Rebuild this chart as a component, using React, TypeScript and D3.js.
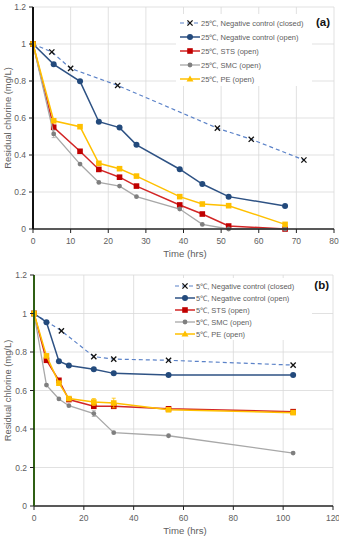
import React from "react";
import { scaleLinear, line, range } from "d3";

// Panel (a): 25 °C
const TIME_A = [0, 5.5, 12.5, 17.5, 23, 27.5, 39, 45, 52, 67];
const TIME_A_CLOSED = [0, 5, 10, 22.5, 49, 58, 72];
const A_CLOSED = [1, 0.957, 0.868, 0.776, 0.545, 0.485, 0.373];
const A_OPEN = [1, 0.89, 0.798, 0.58, 0.548, 0.455, 0.323, 0.243, 0.175, 0.124];
const A_STS = [1, 0.55, 0.42, 0.322, 0.28, 0.232, 0.13, 0.081, 0.016, 0];
const A_SMC = [1, 0.514, 0.351, 0.252, 0.232, 0.175, 0.108, 0.025, 0, 0];
const A_PE = [1, 0.585, 0.553, 0.355, 0.326, 0.286, 0.175, 0.135, 0.126, 0.025];
const A_SMC_ERR = [0, 0.02, 0, 0, 0, 0, 0, 0, 0, 0];

// Panel (b): 5 °C
const TIME_B = [0, 5, 10, 14, 24, 32, 54, 104];
const TIME_B_CLOSED = [0, 11, 24, 32, 54, 104];
const B_CLOSED = [1, 0.91, 0.776, 0.763, 0.757, 0.732];
const B_OPEN = [1, 0.955, 0.752, 0.73, 0.71, 0.689, 0.68, 0.68];
const B_STS = [1, 0.757, 0.653, 0.553, 0.518, 0.518, 0.505, 0.49];
const B_SMC = [1, 0.628, 0.556, 0.521, 0.48, 0.381, 0.365, 0.275];
const B_PE = [1, 0.78, 0.638, 0.558, 0.54, 0.535, 0.5, 0.485];
const B_PE_ERR = [0, 0, 0, 0, 0.018, 0.025, 0, 0];
const B_SMC_ERR = [0, 0, 0, 0, 0.015, 0, 0, 0];

const Y_TICKS = [0, 0.2, 0.4, 0.6, 0.8, 1, 1.2];
const X_TICKS_A = range(0, 81, 10);
const X_TICKS_B = range(0, 121, 20);

const GREY_TEXT = "#606060";
const GRID = "#d9d9d9";
const FONT = "'Liberation Sans', Arial, sans-serif";

type Series = {
  label: string;
  x: number[];
  y: number[];
  err?: number[];
  stroke: string;
  fill: string;
  width: number;
  dash?: string;
  marker: "x" | "circle" | "square" | "dot" | "tri";
};

const Marker = ({ kind, cx, cy, fill, legend }: { kind: string; cx: number; cy: number; fill: string; legend?: boolean }) => {
  if (kind === "x") {
    const s = 2.6;
    return (
      <g stroke="#111" strokeWidth={1.3}>
        <line x1={cx - s} y1={cy - s} x2={cx + s} y2={cy + s} />
        <line x1={cx - s} y1={cy + s} x2={cx + s} y2={cy - s} />
      </g>
    );
  }
  if (kind === "circle") return <circle cx={cx} cy={cy} r={3} fill={fill} />;
  if (kind === "dot") return <circle cx={cx} cy={cy} r={2.4} fill={fill} />;
  if (kind === "square") return <rect x={cx - 2.8} y={cy - 2.8} width={5.6} height={5.6} fill={fill} />;
  if (legend) return <path d={`M${cx - 3.5},${cy + 2.5}L${cx},${cy - 3.5}L${cx + 3.5},${cy + 2.5}Z`} fill={fill} />;
  return <rect x={cx - 2.8} y={cy - 2.8} width={5.6} height={5.6} fill={fill} />;
};

const Panel = ({
  series, xTicks, xMax, xRange, yRange, tag, legendX, legendY, legendStep, legendBox, yAxisColor,
}: {
  series: Series[]; xTicks: number[]; xMax: number; xRange: [number, number]; yRange: [number, number];
  tag: string; legendX: number; legendY: number; legendStep: number; legendBox: [number, number, number, number];
  yAxisColor: string;
}) => {
  const x = scaleLinear().domain([0, xMax]).range(xRange);
  const y = scaleLinear().domain([0, 1.2]).range(yRange);
  const [x0, x1] = xRange;
  const [y0, y1] = yRange;

  return (
    <g fontFamily={FONT}>
      {/* grid */}
      {Y_TICKS.slice(1).map((t) => (
        <line key={"gy" + t} x1={x0} x2={x1} y1={y(t)} y2={y(t)} stroke={GRID} strokeWidth={0.8} />
      ))}
      {xTicks.slice(1).map((t) => (
        <line key={"gx" + t} x1={x(t)} x2={x(t)} y1={y0} y2={y1} stroke={GRID} strokeWidth={0.8} />
      ))}

      {/* legend background hides the grid behind it */}
      <rect x={legendBox[0]} y={legendBox[1]} width={legendBox[2]} height={legendBox[3]} fill="#fff" />

      {/* series */}
      {series.map((s) => {
        const pts = s.x.map((v, i) => [x(v), y(s.y[i])] as [number, number]);
        return (
          <g key={s.label}>
            <path d={line()(pts) ?? ""} fill="none" stroke={s.stroke} strokeWidth={s.width} strokeDasharray={s.dash} />
            {s.err &&
              s.err.map((e, i) =>
                e > 0 ? (
                  <g key={"e" + i} stroke={s.stroke} strokeWidth={0.8}>
                    <line x1={pts[i][0]} x2={pts[i][0]} y1={y(s.y[i] - e)} y2={y(s.y[i] + e)} />
                    <line x1={pts[i][0] - 2} x2={pts[i][0] + 2} y1={y(s.y[i] + e)} y2={y(s.y[i] + e)} />
                    <line x1={pts[i][0] - 2} x2={pts[i][0] + 2} y1={y(s.y[i] - e)} y2={y(s.y[i] - e)} />
                  </g>
                ) : null
              )}
            {pts.map(([px, py], i) => (
              <Marker key={i} kind={s.marker} cx={px} cy={py} fill={s.fill} />
            ))}
          </g>
        );
      })}

      {/* axes */}
      <line x1={x0} x2={x1} y1={y0} y2={y0} stroke="#222" strokeWidth={1.5} />
      {xTicks.map((t) => (
        <g key={"xt" + t}>
          <line x1={x(t)} x2={x(t)} y1={y0} y2={y0 + 4} stroke="#222" strokeWidth={1} />
          <text x={x(t)} y={y0 + 15} textAnchor="middle" fontSize={8.5} fill={GREY_TEXT}>{t}</text>
        </g>
      ))}
      <line x1={x0} x2={x0} y1={y0} y2={y1} stroke={yAxisColor} strokeWidth={2} />
      {Y_TICKS.map((t) => (
        <g key={"yt" + t}>
          <line x1={x0 - 4} x2={x0} y1={y(t)} y2={y(t)} stroke="#222" strokeWidth={1} />
          <text x={x0 - 7} y={y(t) + 3} textAnchor="end" fontSize={8.5} fill={GREY_TEXT}>{t}</text>
        </g>
      ))}

      <text x={185} y={y0 + 28} textAnchor="middle" fontSize={9.6} fill={GREY_TEXT}>Time (hrs)</text>
      <text
        transform={`translate(11,${(y0 + y1) / 2}) rotate(-90)`}
        textAnchor="middle"
        fontSize={9.4}
        fill={GREY_TEXT}
      >
        Residual chlorine (mg/L)
      </text>

      {/* legend */}
      {series.map((s, i) => {
        const ly = legendY + i * legendStep;
        return (
          <g key={"lg" + s.label}>
            <line x1={legendX} x2={legendX + 20} y1={ly} y2={ly} stroke={s.stroke} strokeWidth={s.width} strokeDasharray={s.dash ? "4,3" : undefined} />
            <Marker kind={s.marker} cx={legendX + 10} cy={ly} fill={s.fill} legend />
            <text x={legendX + 21} y={ly + 3} fontSize={7.5} fill={GREY_TEXT}>{s.label}</text>
          </g>
        );
      })}
      <text x={x1 - 4} y={legendY + 3} textAnchor="end" fontSize={11.5} fontWeight="bold" fill="#111">{tag}</text>
    </g>
  );
};

const mkSeries = (
  t: string, time: number[], timeClosed: number[], closed: number[], open: number[], sts: number[], smc: number[], pe: number[],
  errSmc?: number[], errPe?: number[]
): Series[] => [
  { label: `${t}℃, Negative control (closed)`, x: timeClosed, y: closed, stroke: "#5b82c8", fill: "#111", width: 1.2, dash: "4,3", marker: "x" },
  { label: `${t}℃, Negative control (open)`, x: time, y: open, stroke: "#2e5284", fill: "#234a7c", width: 1.5, marker: "circle" },
  { label: `${t}℃, STS (open)`, x: time, y: sts, stroke: "#d22525", fill: "#c00000", width: 1.5, marker: "square" },
  { label: `${t}℃, SMC (open)`, x: time, y: smc, err: errSmc, stroke: "#a8a8a8", fill: "#7f7f7f", width: 1.3, marker: "dot" },
  { label: `${t}℃, PE (open)`, x: time, y: pe, err: errPe, stroke: "#ffc000", fill: "#ffc000", width: 1.5, marker: "tri" },
];

export default function App() {
  const seriesA = mkSeries("25", TIME_A, TIME_A_CLOSED, A_CLOSED, A_OPEN, A_STS, A_SMC, A_PE, A_SMC_ERR);
  const seriesB = mkSeries("5", TIME_B, TIME_B_CLOSED, B_CLOSED, B_OPEN, B_STS, B_SMC, B_PE, B_SMC_ERR, B_PE_ERR);

  return (
    <svg width={339} height={536} style={{ position: "absolute", left: 0, top: 0, background: "#fff" }}>
      <rect width={339} height={536} fill="#fff" />
      <Panel
        series={seriesA}
        xTicks={X_TICKS_A}
        xMax={80}
        xRange={[33, 334]}
        yRange={[229, 7]}
        tag="(a)"
        legendX={180}
        legendY={23}
        legendStep={14}
        legendBox={[176, 14, 136, 72]}
        yAxisColor="#111"
      />
      <Panel
        series={seriesB}
        xTicks={X_TICKS_B}
        xMax={120}
        xRange={[34, 333]}
        yRange={[506, 275]}
        tag="(b)"
        legendX={175}
        legendY={286}
        legendStep={12}
        legendBox={[172, 278, 140, 62]}
        yAxisColor="#2f5f14"
      />
    </svg>
  );
}
